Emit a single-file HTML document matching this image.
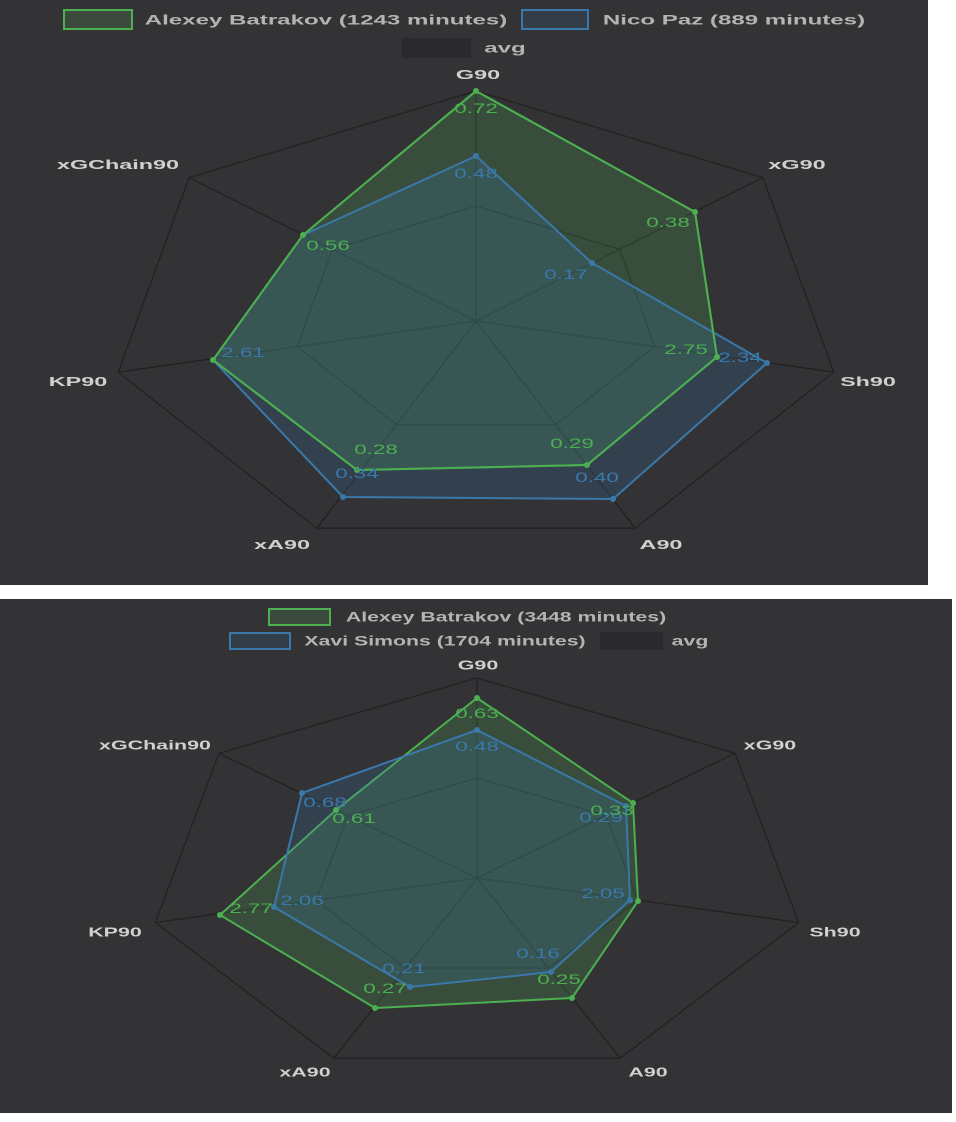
<!DOCTYPE html>
<html><head><meta charset="utf-8"><style>
html,body{margin:0;padding:0;background:#fff;width:956px;height:1122px;overflow:hidden}
svg{display:block;font-family:"Liberation Sans",sans-serif}
</style></head><body>
<svg id="s" width="956" height="1122" viewBox="0 0 956 1122">
<rect x="0" y="0" width="928" height="585" fill="#333335"/>
<rect x="0" y="599" width="952" height="514" fill="#333335"/>
<g id="grid" stroke="#222224" stroke-width="1.3" fill="none"></g>

<polygon points="476,91 695,212 717,357 587,465 357,470 213,360 303,235" fill="rgba(76,175,80,0.22)" stroke="#4caf50" stroke-width="2"/>
<polygon points="476,156 592,263 767,363 613,499 343,497 213,360 303,235" fill="rgba(54,120,175,0.22)" stroke="#3a78aa" stroke-width="2"/>
<polygon points="476,91 695,212 717,357 587,465 357,470 213,360 303,235" fill="none" stroke="#4caf50" stroke-width="2"/>
<g fill="#4caf50"><circle cx="476" cy="91" r="3"/><circle cx="695" cy="212" r="3"/><circle cx="717" cy="357" r="3"/><circle cx="587" cy="465" r="3"/><circle cx="357" cy="470" r="3"/><circle cx="213" cy="360" r="3"/><circle cx="303" cy="235" r="3"/></g>
<g fill="#3a78aa"><circle cx="476" cy="156" r="3"/><circle cx="592" cy="263" r="3"/><circle cx="767" cy="363" r="3"/><circle cx="613" cy="499" r="3"/><circle cx="343" cy="497" r="3"/></g>

<polygon points="477,698 633,803 638,901 572,998 375,1008 220,915 336,810" fill="rgba(76,175,80,0.22)" stroke="#4caf50" stroke-width="2"/>
<polygon points="477,730 626,806 630,900 551,972 410,987 274,907 302,793" fill="rgba(54,120,175,0.22)" stroke="#3a78aa" stroke-width="2"/>
<g fill="#4caf50"><circle cx="477" cy="698" r="3"/><circle cx="633" cy="803" r="3"/><circle cx="638" cy="901" r="3"/><circle cx="572" cy="998" r="3"/><circle cx="375" cy="1008" r="3"/><circle cx="220" cy="915" r="3"/><circle cx="336" cy="810" r="3"/></g>
<g fill="#3a78aa"><circle cx="477" cy="730" r="3"/><circle cx="626" cy="806" r="3"/><circle cx="630" cy="900" r="3"/><circle cx="551" cy="972" r="3"/><circle cx="410" cy="987" r="3"/><circle cx="274" cy="907" r="3"/><circle cx="302" cy="793" r="3"/></g>

<g id="txt"></g>
</svg>
<script>
var NS="http://www.w3.org/2000/svg";
var g=document.getElementById('grid');
function heps(cx,cy,rx,ry){
  [1,0.5].forEach(function(f){
    var p=[];for(var i=0;i<7;i++){var a=i*2*Math.PI/7;p.push((cx+f*rx*Math.sin(a)).toFixed(1)+','+(cy-f*ry*Math.cos(a)).toFixed(1));}
    var e=document.createElementNS(NS,'polygon');e.setAttribute('points',p.join(' '));g.appendChild(e);
  });
  for(var i=0;i<7;i++){var a=i*2*Math.PI/7;var l=document.createElementNS(NS,'line');
    l.setAttribute('x1',cx);l.setAttribute('y1',cy);l.setAttribute('x2',cx+rx*Math.sin(a));l.setAttribute('y2',cy-ry*Math.cos(a));g.appendChild(l);}
}
heps(476,321,367,230);
heps(477,878,330,200);
var t=document.getElementById('txt');
function tx(s,x,y,col,fs,w,sx){
  var e=document.createElementNS(NS,'text');
  e.setAttribute('transform','translate('+x+','+y+') scale('+(sx||1.6)+',1)');
  e.setAttribute('text-anchor','middle');e.setAttribute('dominant-baseline','central');
  e.setAttribute('fill',col);e.setAttribute('font-size',fs);if(w)e.setAttribute('font-weight','bold');
  e.textContent=s;t.appendChild(e);
}
function box(x,y,w,h,st,fi){var r=document.createElementNS(NS,'rect');r.setAttribute('x',x);r.setAttribute('y',y);r.setAttribute('width',w);r.setAttribute('height',h);r.setAttribute('fill',fi);r.setAttribute('stroke',st);r.setAttribute('stroke-width',2);t.appendChild(r);}
var L='#b4b4b4',A='#d0d0d0',G='#4caf50',B='#3a78aa',LS=1.72,AS=1.8,LS2=1.52,AS2=1.65;
box(64,10,68,19,'#4caf50','#3b4a3c');tx('Alexey Batrakov (1243 minutes)',326,20,L,14,true,LS);
box(522,10,66,19,'#3a78aa','#323d48');tx('Nico Paz (889 minutes)',734,20,L,14,true,LS);
box(403,39,67,18,'#2a2a2c','#2a2a2c');tx('avg',505,48,L,14,true,LS);
tx('G90',478,75,A,13,true,AS);tx('xGChain90',118,165,A,13,true,AS);tx('xG90',797,165,A,13,true,AS);
tx('KP90',78,382,A,13,true,AS);tx('Sh90',868,382,A,13,true,AS);tx('xA90',282,545,A,13,true,AS);tx('A90',661,545,A,13,true,AS);
tx('0.72',476,108,G,14);tx('0.48',476,173,B,14);tx('0.38',668,222,G,14);tx('0.17',566,274,B,14);
tx('2.34',740,357,B,14);tx('2.75',686,349,G,14);tx('0.29',572,443,G,14);tx('0.40',597,477,B,14);
tx('0.28',376,449,G,14);tx('0.34',357,473,B,14);tx('2.61',243,352,B,14);tx('0.56',328,245,G,14);
box(269,609,61,16,'#4caf50','#3b4a3c');tx('Alexey Batrakov (3448 minutes)',506,617,L,14,true,LS2);
box(230,633,60,16,'#3a78aa','#323d48');tx('Xavi Simons (1704 minutes)',445,641,L,14,true,LS2);
box(601,633,61,16,'#2a2a2c','#2a2a2c');tx('avg',690,641,L,14,true,LS2);
tx('G90',478,665,A,13,true,AS2);tx('xGChain90',155,745,A,13,true,AS2);tx('xG90',770,745,A,13,true,AS2);
tx('KP90',115,932,A,13,true,AS2);tx('Sh90',835,932,A,13,true,AS2);tx('xA90',305,1072,A,13,true,AS2);tx('A90',648,1072,A,13,true,AS2);
tx('0.63',477,713,G,14);tx('0.48',477,746,B,14);tx('0.29',601,817,B,14);tx('0.33',612,810,G,14);
tx('2.05',603,893,B,14);tx('0.61',354,818,G,14);tx('0.68',325,802,B,14);tx('2.77',251,908,G,14);
tx('2.06',302,900,B,14);tx('0.16',538,953,B,14);tx('0.25',559,979,G,14);tx('0.21',404,968,B,14);tx('0.27',385,988,G,14);
</script>
</body></html>
